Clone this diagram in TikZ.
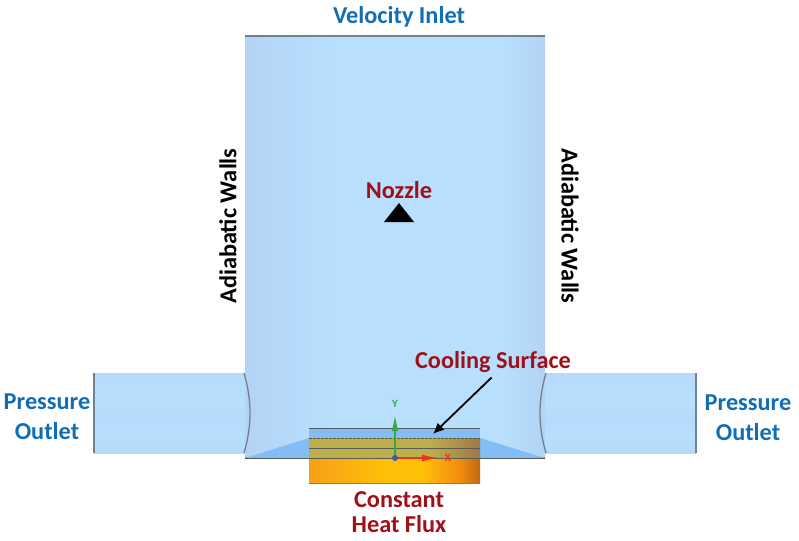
\documentclass[tikz,border=0pt]{standalone}
\usepackage{fontspec}
\setmainfont{Carlito}
\usetikzlibrary{arrows.meta}
\definecolor{flowblue}{RGB}{16, 110, 182}
\definecolor{heatred}{RGB}{160, 16, 24}
\definecolor{bodyblue}{RGB}{184, 223, 254}
\definecolor{edgeblue}{RGB}{180, 211, 245}
\definecolor{midblue}{RGB}{182, 218, 251}
\definecolor{wedgeblue}{RGB}{130, 190, 245}
\definecolor{olivelayer}{RGB}{188, 176, 76}
\definecolor{oliveend}{RGB}{160, 120, 70}
\definecolor{wallgrey}{RGB}{110, 130, 148}
\definecolor{heatleft}{RGB}{248, 160, 24}
\definecolor{heatmid}{RGB}{255, 192, 8}
\definecolor{heatright}{RGB}{244, 140, 16}
\definecolor{heatend}{RGB}{190, 104, 16}
\definecolor{axisgreen}{RGB}{60, 165, 70}
\definecolor{axisred}{RGB}{240, 50, 30}
\definecolor{originblue}{RGB}{60, 90, 170}
\pgfdeclarehorizontalshading{bodyshade}{100bp}{
  color(0bp)=(edgeblue); color(25bp)=(edgeblue); color(33bp)=(midblue); color(40bp)=(bodyblue);
  color(68bp)=(bodyblue); color(75bp)=(edgeblue); color(100bp)=(edgeblue)}
\pgfdeclareverticalshading{pipeshade}{100bp}{
  color(0bp)=(edgeblue); color(25bp)=(midblue); color(38bp)=(bodyblue); color(45bp)=(midblue);
  color(58bp)=(bodyblue); color(75bp)=(midblue); color(100bp)=(edgeblue)}
\pgfdeclarehorizontalshading{heatshade}{100bp}{
  color(0bp)=(heatleft); color(25bp)=(heatleft); color(47bp)=(heatmid); color(58bp)=(heatmid);
  color(69bp)=(heatright); color(75bp)=(heatend); color(100bp)=(heatend)}
\pgfdeclarehorizontalshading{oliveshade}{100bp}{
  color(0bp)=(olivelayer); color(60bp)=(olivelayer); color(75bp)=(oliveend); color(100bp)=(oliveend)}
\tikzset{
  flowlabel/.style={font=\fontsize{24.3}{30}\selectfont\bfseries, text=flowblue, align=center},
  heatlabel/.style={font=\fontsize{24.3}{25}\selectfont\bfseries, text=heatred, align=center},
  walllabel/.style={font=\fontsize{24.3}{25}\selectfont\bfseries, text=black},
  wallline/.style={draw=wallgrey, line width=1.3pt},
  layerline/.style={draw=black!65, line width=0.8pt},
  axislabel/.style={font=\fontsize{11}{12}\selectfont\bfseries, inner sep=0pt},
}
\begin{document}
\begin{tikzpicture}[x=1pt,y=-1pt]
\useasboundingbox (0,0) rectangle (799,540);
% pipes
\shade[shading=pipeshade] (94,373) rectangle (250,453);
\shade[shading=pipeshade] (540,373) rectangle (696,453);
\draw[wallline] (94,373) -- (94,453);
\draw[wallline] (696,373) -- (696,453);
% chamber
\shade[shading=bodyshade] (245,36) rectangle (545,458);
\draw[wallline] (245,36) -- (545,36);
\draw[wallline] (245,458) -- (545,458);
\draw[wallline] (244,373) .. controls (252,400) and (252,426) .. (244,453);
\draw[wallline] (546,373) .. controls (538,400) and (538,426) .. (546,453);
% wedges under the plate
\fill[wedgeblue] (245,458) -- (309,438) -- (309,458) -- cycle;
\fill[wedgeblue] (545,458) -- (480,438) -- (480,458) -- cycle;
% plate
\fill[wedgeblue] (309,428) rectangle (480,438);
\shade[shading=oliveshade] (309,438) rectangle (480,458);
\shade[shading=heatshade] (309,458) rectangle (480,483);
\draw[layerline] (309,428) -- (480,428);
\draw[layerline, dash pattern=on 3pt off 1pt] (309,438) -- (480,438);
\draw[layerline] (309,448) -- (480,448);
\draw[layerline] (245,458) -- (545,458);
\draw[layerline, draw=oliveend] (309,483) -- (480,483);
% axes
\coordinate (origin) at (395,458);
\coordinate (yTip) at (395,415);
\coordinate (xTip) at (438,458);
\draw[axisgreen, line width=1.6pt, -{Latex[length=16pt,width=7pt]}] (origin) -- (yTip);
\draw[axisred, line width=1.4pt, -{Latex[length=16pt,width=7pt]}] (origin) -- (xTip);
\fill[originblue] (origin) circle (3pt);
\node[axislabel, text=axisgreen] (yLabel) at (395,404) {Y};
\node[axislabel, text=axisred] (xLabel) at (448,458) {X};
% nozzle
\fill[black] (384,222) -- (414,222) -- (399,203) -- cycle;
% labels
\node[flowlabel] (inlet) at (399,17) {Velocity Inlet};
\node[flowlabel] (outletL) at (47,417) {Pressure\\Outlet};
\node[flowlabel] (outletR) at (748,418) {Pressure\\Outlet};
\node[heatlabel] (nozzle) at (399,190) {Nozzle};
\node[heatlabel] (cooling) at (493,362) {Cooling Surface};
\node[heatlabel] (flux) at (399,512) {Constant\\Heat Flux};
\node[walllabel, rotate=90] (wallL) at (228,226) {Adiabatic Walls};
\node[walllabel, rotate=-90] (wallR) at (570,226) {Adiabatic Walls};
% arrow to the surface
\coordinate (coolTip) at (433,434);
\draw[black, line width=1.8pt, -{Latex[length=11pt,width=10pt]}, shorten <=2pt] (cooling.south) -- (coolTip);
\end{tikzpicture}
\end{document}
